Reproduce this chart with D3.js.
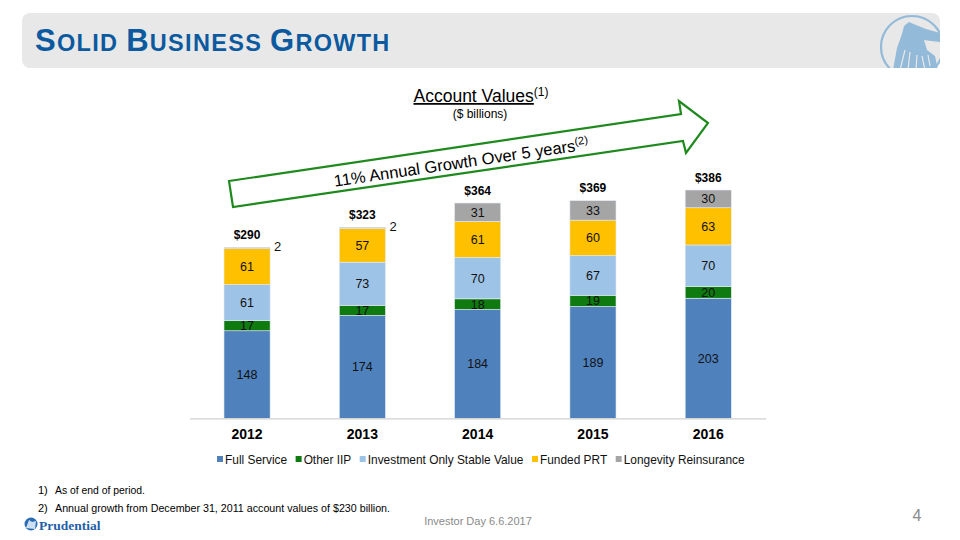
<!DOCTYPE html>
<html>
<head>
<meta charset="utf-8">
<script src="https://cdn.jsdelivr.net/npm/d3@7"></script>
<style>
  body { margin: 0; background: #fff; }
  svg { font-family: Arial, "Liberation Sans", sans-serif; }
</style>
</head>
<body>
<div id="vis"></div>
<script>
const WIDTH = 960;
const HEIGHT = 540;

// chart data ($ billions)
const years = ["2012", "2013", "2014", "2015", "2016"];
const seriesNames = ["Full Service", "Other IIP", "Investment Only Stable Value", "Funded PRT", "Longevity Reinsurance"];
const fullService = [148, 174, 184, 189, 203];
const otherIIP = [17, 17, 18, 19, 20];
const stableValue = [61, 73, 70, 67, 70];
const fundedPRT = [61, 57, 61, 60, 63];
const longevity = [2, 2, 31, 33, 30];
const totals = [290, 323, 364, 369, 386];
const colors = ["#4f81bd", "#0e7a10", "#9dc3e6", "#ffc000", "#a5a5a5"];

const svg = d3.select("#vis")
  .append("svg")
    .attr("width", WIDTH)
    .attr("height", HEIGHT);

// header band
svg.append("rect")
  .attr("x", 22).attr("y", 13)
  .attr("width", 918).attr("height", 55)
  .attr("rx", 8)
  .attr("fill", "#e8e8e8");

// logo in header (simple rock emblem)
const logo = svg.append("g");
logo.append("clipPath").attr("id", "hdrclip")
  .append("rect").attr("x", 860).attr("y", 13).attr("width", 80).attr("height", 55);
const lg = logo.append("g").attr("clip-path", "url(#hdrclip)");
lg.append("circle")
  .attr("cx", 912).attr("cy", 47).attr("r", 31)
  .attr("fill", "none").attr("stroke", "#93bad8").attr("stroke-width", 2.2);
lg.append("path")
  .attr("d", "M893,70 L897,48 L902,34 L904,26 L909,22 L916,25 L926,29 L940,33 L940,42 L931,41 L924,40 L927,50 L935,56 L938,70 Z")
  .attr("fill", "#93bad8");
lg.selectAll(".streak")
  .data([[900, 70, 905, 50], [908, 70, 910, 52], [916, 70, 917, 55], [925, 70, 922, 56], [930, 66, 928, 55]])
  .enter()
  .append("line")
    .attr("x1", d => d[0]).attr("y1", d => d[1])
    .attr("x2", d => d[2]).attr("y2", d => d[3])
    .attr("stroke", "#e8e8e8").attr("stroke-width", 1.2);

// title in small caps
const title = svg.append("text")
  .attr("x", 35).attr("y", 51)
  .attr("fill", "#0b5aa0")
  .attr("font-weight", "bold")
  .attr("letter-spacing", 1.3);
[["S", 31], ["OLID ", 23.5], ["B", 31], ["USINESS ", 23.5], ["G", 31], ["ROWTH", 23.5]].forEach(([t, s]) => {
  title.append("tspan").attr("font-size", s).text(t);
});

// chart title
const ct = svg.append("text")
  .attr("x", 481).attr("y", 102)
  .attr("text-anchor", "middle")
  .attr("font-size", 17.5).attr("fill", "#000");
ct.append("tspan").attr("text-decoration", "underline").text("Account Values");
ct.append("tspan").attr("font-size", 12).attr("dy", -6).text("(1)");

svg.append("text")
  .attr("x", 480).attr("y", 118)
  .attr("text-anchor", "middle")
  .attr("font-size", 12)
  .text("($ billions)");

// scales
const X_SCALE = d3.scaleBand()
  .domain(years)
  .range([189.4, 765.9])
  .paddingInner(0.6)
  .paddingOuter(0.3);

const Y_SCALE = d3.scaleLinear()
  .domain([0, 386])
  .range([418.3, 190]);

// stacked data
const table = years.map((y, i) => ({
  year: y,
  "Full Service": fullService[i],
  "Other IIP": otherIIP[i],
  "Investment Only Stable Value": stableValue[i],
  "Funded PRT": fundedPRT[i],
  "Longevity Reinsurance": longevity[i]
}));
const stacked = d3.stack().keys(seriesNames)(table);

const layers = svg.selectAll(".layer")
  .data(stacked)
  .enter()
  .append("g")
    .attr("class", "layer")
    .attr("fill", (d, i) => colors[i]);

layers.selectAll("rect")
  .data(d => d)
  .enter()
  .append("rect")
    .attr("x", d => X_SCALE(d.data.year))
    .attr("width", X_SCALE.bandwidth())
    .attr("y", d => Y_SCALE(d[1]))
    .attr("height", d => Y_SCALE(d[0]) - Y_SCALE(d[1]))
    .attr("stroke", "#e4ecf4")
    .attr("stroke-width", 0.6);

// segment labels
stacked.forEach((layer) => {
  layer.forEach(d => {
    const v = d[1] - d[0];
    const small = v < 5;
    svg.append("text")
      .attr("x", small ? X_SCALE(d.data.year) + X_SCALE.bandwidth() + 4 : X_SCALE(d.data.year) + X_SCALE.bandwidth() / 2)
      .attr("y", small ? Y_SCALE(d[1]) + 4 : (Y_SCALE(d[0]) + Y_SCALE(d[1])) / 2 + 4.5)
      .attr("text-anchor", small ? "start" : "middle")
      .attr("font-size", small ? 13 : 12.5)
      .attr("fill", "#111")
      .text(v);
  });
});

// totals
svg.selectAll(".total")
  .data(years)
  .enter()
  .append("text")
    .attr("class", "total")
    .attr("x", d => X_SCALE(d) + X_SCALE.bandwidth() / 2)
    .attr("y", (d, i) => Y_SCALE(totals[i]) - 8)
    .attr("text-anchor", "middle")
    .attr("font-size", 12)
    .attr("font-weight", "bold")
    .text((d, i) => "$" + totals[i]);

// x axis
const xAxis = svg.append("g")
  .attr("transform", "translate(0," + Y_SCALE(0) + ")")
  .call(d3.axisBottom(X_SCALE).tickSize(0).tickPadding(11));
xAxis.select(".domain").attr("stroke", "#d0d0d0").attr("stroke-width", 1.2);
xAxis.selectAll("text")
  .attr("font-size", 14)
  .attr("font-weight", "bold")
  .attr("font-family", "Arial, 'Liberation Sans', sans-serif")
  .attr("fill", "#000");

// legend
const legend = svg.append("g").attr("font-size", 11.9);
let lx = 217;
seriesNames.forEach((name, i) => {
  legend.append("rect")
    .attr("x", lx).attr("y", 456)
    .attr("width", 6).attr("height", 6)
    .attr("fill", colors[i]);
  const t = legend.append("text")
    .attr("x", lx + 8).attr("y", 464)
    .attr("fill", "#111")
    .text(name);
  lx += 8 + t.node().getComputedTextLength() + 8.5;
});

// growth arrow
const arrowPts = [[229, 181], [681, 114], [679, 101], [708, 123], [686, 153], [683, 141], [233, 207]];
svg.append("path")
  .attr("d", d3.line()(arrowPts) + "Z")
  .attr("fill", "#fff")
  .attr("stroke", "#1e8a1e")
  .attr("stroke-width", 2.2)
  .attr("stroke-linejoin", "miter");

const at = svg.append("text")
  .attr("transform", "translate(462,168) rotate(-8.4)")
  .attr("text-anchor", "middle")
  .attr("font-size", 16.5)
  .attr("fill", "#000");
at.append("tspan").text("11% Annual Growth Over 5 years");
at.append("tspan").attr("font-size", 11).attr("dy", -6).text("(2)");

// footnotes
const notes = ["As of end of period.", "Annual growth from December 31, 2011 account values of $230 billion."];
const noteWidths = [90, 335];
const narrow = "'Liberation Sans Narrow', 'Arial Narrow', Arial, sans-serif";
notes.forEach((n, i) => {
  svg.append("text")
    .attr("x", 38).attr("y", 494 + i * 18)
    .attr("font-size", 11)
    .attr("font-family", narrow)
    .text((i + 1) + ")");
  svg.append("text")
    .attr("x", 55).attr("y", 494 + i * 18)
    .attr("font-size", 11)
    .attr("font-family", narrow)
    .attr("textLength", noteWidths[i])
    .attr("lengthAdjust", "spacingAndGlyphs")
    .text(n);
});

svg.append("text")
  .attr("x", 478).attr("y", 525)
  .attr("text-anchor", "middle")
  .attr("font-size", 11)
  .attr("fill", "#8a8a8a")
  .attr("font-family", narrow)
  .text("Investor Day 6.6.2017");

svg.append("text")
  .attr("x", 917).attr("y", 521)
  .attr("text-anchor", "middle")
  .attr("font-size", 16)
  .attr("fill", "#8a8a8a")
  .text("4");

// footer logo
svg.append("circle")
  .attr("cx", 31).attr("cy", 524).attr("r", 6.5)
  .attr("fill", "#2a6db5");
svg.append("path")
  .attr("d", "M26,528 L29,520 L32,522 L36,521 L35,529 Z")
  .attr("fill", "#cfe0f2");
svg.append("text")
  .attr("x", 39).attr("y", 530)
  .attr("font-size", 13.5)
  .attr("font-weight", "bold")
  .attr("font-family", "'Liberation Serif', 'DejaVu Serif', serif")
  .attr("fill", "#1f5fa8")
  .text("Prudential");
</script>
</body>
</html>
